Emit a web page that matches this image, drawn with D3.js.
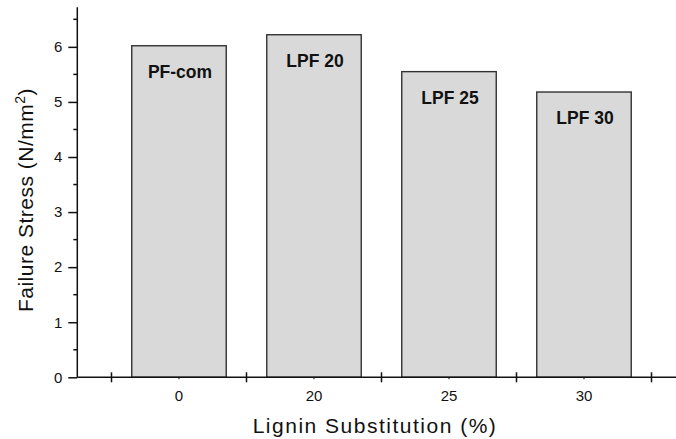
<!DOCTYPE html>
<html>
<head>
<meta charset="utf-8">
<script src="https://cdn.jsdelivr.net/npm/d3@7"></script>
<style>
  html, body { margin: 0; padding: 0; background: #fff; }
  svg { display: block; }
  text { font-family: "Liberation Sans", Arial, Helvetica, sans-serif; fill: #111; }
</style>
</head>
<body>
<svg id="chart" width="676" height="439"></svg>
<script>
// Lignin substitution level for each resin and its failure stress
const categories = ["0", "20", "25", "30"];
const failureStress = [6.02, 6.22, 5.55, 5.18];
const barLabels = ["PF-com", "LPF 20", "LPF 25", "LPF 30"];
const yTickValues = [0, 1, 2, 3, 4, 5, 6];
const yMinorValues = [0.5, 1.5, 2.5, 3.5, 4.5, 5.5, 6.5];

const svg = d3.select("#chart");
const W = 676, H = 439;

const axisLeft = 77.3, axisBottom = 377.3;

const x = d3.scaleBand()
  .domain(categories)
  .range([111.5, 651.5])
  .paddingInner(0.3)
  .paddingOuter(0.15);

const y = d3.scaleLinear()
  .domain([0, 6.72])
  .range([axisBottom, 7.2]);

// Bars
svg.append("g")
  .selectAll("rect")
  .data(categories)
  .join("rect")
  .attr("x", d => x(d))
  .attr("y", (d, i) => y(failureStress[i]))
  .attr("width", x.bandwidth())
  .attr("height", (d, i) => y(0) - y(failureStress[i]))
  .attr("fill", "#d9d9d9")
  .attr("stroke", "#333")
  .attr("stroke-width", 1.4);

// Resin labels inside the bars
svg.append("g")
  .selectAll("text")
  .data(categories)
  .join("text")
  .attr("x", d => x(d) + x.bandwidth() / 2 + 1)
  .attr("y", (d, i) => y(failureStress[i]) + 32)
  .attr("text-anchor", "middle")
  .attr("font-size", 17.5)
  .attr("font-weight", "bold")
  .text((d, i) => barLabels[i]);

// Y axis: major ticks with labels, minor ticks between
const yAxis = d3.axisLeft(y)
  .tickValues(yTickValues)
  .tickFormat(d3.format("d"))
  .tickSize(9)
  .tickPadding(6);
const gy = svg.append("g")
  .attr("transform", `translate(${axisLeft},0)`)
  .call(yAxis);
gy.select(".domain").remove();
gy.selectAll(".tick line").attr("stroke", "#111").attr("stroke-width", 1.5);
gy.selectAll(".tick text")
  .attr("font-size", 15)
  .attr("font-family", "Liberation Sans, Arial, sans-serif")
  .attr("fill", "#111");

svg.append("g")
  .selectAll("line")
  .data(yMinorValues)
  .join("line")
  .attr("x1", axisLeft - 4).attr("x2", axisLeft)
  .attr("y1", d => y(d)).attr("y2", d => y(d))
  .attr("stroke", "#111").attr("stroke-width", 1.5);

svg.append("line")
  .attr("x1", axisLeft).attr("x2", axisLeft)
  .attr("y1", y.range()[1]).attr("y2", axisBottom)
  .attr("stroke", "#111").attr("stroke-width", 1.5);

// X axis: category labels, crossing ticks on the band edges
const xAxis = d3.axisBottom(x).tickSize(2).tickPadding(11);
const gx = svg.append("g")
  .attr("transform", `translate(0,${axisBottom})`)
  .call(xAxis);
gx.select(".domain").remove();
gx.selectAll(".tick line").attr("stroke", "#333").attr("stroke-width", 1.2);
gx.selectAll(".tick text")
  .attr("font-size", 15)
  .attr("font-family", "Liberation Sans, Arial, sans-serif")
  .attr("fill", "#111");

const edges = categories.map(d => x(d) - x.step() * x.paddingInner() / 2)
  .concat([x(categories[categories.length - 1]) + x.bandwidth() + x.step() * x.paddingInner() / 2]);
svg.append("g")
  .selectAll("line")
  .data(edges)
  .join("line")
  .attr("x1", d => d).attr("x2", d => d)
  .attr("y1", axisBottom - 5).attr("y2", axisBottom + 5)
  .attr("stroke", "#111").attr("stroke-width", 1.5);

svg.append("line")
  .attr("x1", axisLeft).attr("x2", W)
  .attr("y1", axisBottom).attr("y2", axisBottom)
  .attr("stroke", "#111").attr("stroke-width", 1.5);

// Axis titles
svg.append("text")
  .attr("x", 375)
  .attr("y", 433)
  .attr("text-anchor", "middle")
  .attr("font-size", 21)
  .attr("letter-spacing", 1.5)
  .text("Lignin Substitution (%)");

const yt = svg.append("text")
  .attr("transform", "translate(33,200) rotate(-90)")
  .attr("text-anchor", "middle")
  .attr("font-size", 21)
  .attr("letter-spacing", 0.5);
yt.append("tspan").text("Failure Stress (N/mm");
yt.append("tspan").attr("font-size", 14).attr("dy", -8).text("2");
yt.append("tspan").attr("dy", 8).text(")");
</script>
</body>
</html>
